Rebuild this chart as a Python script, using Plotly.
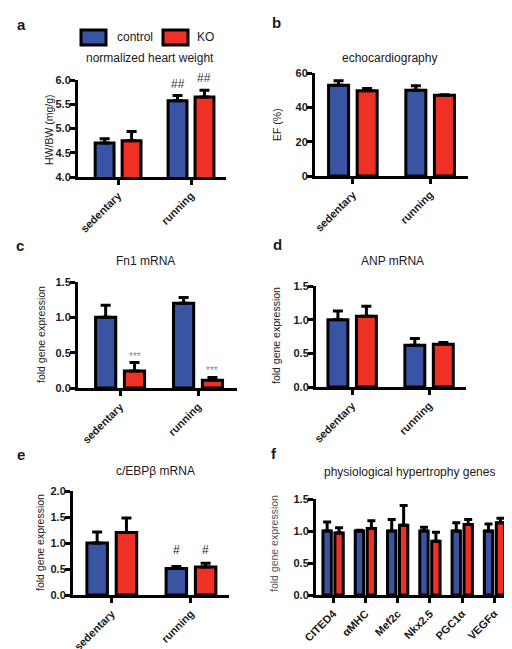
import plotly.graph_objects as go

# ---------------- data ----------------
groups = ["sedentary", "running"]
genes = ["CITED4", "αMHC", "Mef2c", "Nkx2.5", "PGC1α", "VEGFα"]

hw_control = [4.70, 5.57]
hw_control_err = [0.09, 0.11]
hw_ko = [4.75, 5.65]
hw_ko_err = [0.19, 0.14]

ef_control = [52.8, 49.9]
ef_control_err = [2.7, 2.7]
ef_ko = [49.7, 47.0]
ef_ko_err = [1.3, 0.4]

fn1_control = [1.00, 1.20]
fn1_control_err = [0.17, 0.08]
fn1_ko = [0.24, 0.11]
fn1_ko_err = [0.12, 0.04]

anp_control = [1.00, 0.62]
anp_control_err = [0.13, 0.10]
anp_ko = [1.05, 0.635]
anp_ko_err = [0.15, 0.025]

cebpb_control = [1.00, 0.51]
cebpb_control_err = [0.21, 0.04]
cebpb_ko = [1.20, 0.54]
cebpb_ko_err = [0.28, 0.07]

phys_control = [1.00, 1.00, 1.00, 1.00, 1.00, 1.00]
phys_control_err = [0.14, 0.01, 0.18, 0.06, 0.13, 0.11]
phys_ko = [0.97, 1.04, 1.09, 0.84, 1.10, 1.13]
phys_ko_err = [0.08, 0.12, 0.31, 0.14, 0.08, 0.07]

# ---------------- styling ----------------
W, H = 512, 649
BLUE = "#3a54a4"
RED = "#ee3124"
FONT = "Liberation Sans, Arial, sans-serif"
TXT = "#1a1a1a"
BARGAP = 0.26
BARGROUPGAP = 0.30
OFF = (1 - BARGAP) / 4  # offset of each bar centre from category centre


def xd(l, r):
    return [l / W, r / W]


def yd(top, bottom):
    return [1 - bottom / H, 1 - top / H]


panels = [
    dict(cats=groups, c=hw_control, ce=hw_control_err, k=hw_ko, ke=hw_ko_err,
         px=(70, 218), py=(72, 169), xr=[-0.55, 1.48], yr=[4, 6], dt=0.5, fmt=".1f",
         title="normalized heart weight", tpos=(142, 50),
         ytitle="HW/BW (mg/g)", ytpos=(41, 122), letter="a", lpos=(13, 16), cap=5),
    dict(cats=groups, c=ef_control, ce=ef_control_err, k=ef_ko, ke=ef_ko_err,
         px=(307, 460), py=(65, 168), xr=[-0.49, 1.49], yr=[0, 60], dt=20, fmt="d",
         title="echocardiography", tpos=(381, 50),
         ytitle="EF (%)", ytpos=(269, 117), letter="b", lpos=(268, 15), cap=5),
    dict(cats=groups, c=fn1_control, ce=fn1_control_err, k=fn1_ko, ke=fn1_ko_err,
         px=(70, 229), py=(274, 380), xr=[-0.54, 1.5], yr=[0, 1.5], dt=0.5, fmt=".1f",
         title="Fn1 mRNA", tpos=(137, 253),
         ytitle="fold gene expression", ytpos=(33, 327), letter="c", lpos=(12, 238), cap=5),
    dict(cats=groups, c=anp_control, ce=anp_control_err, k=anp_ko, ke=anp_ko_err,
         px=(308, 458), py=(278, 379), xr=[-0.47, 1.48], yr=[0, 1.5], dt=0.5, fmt=".1f",
         title="ANP mRNA", tpos=(384, 253),
         ytitle="fold gene expression", ytpos=(268, 328), letter="d", lpos=(269, 237), cap=5),
    dict(cats=groups, c=cebpb_control, ce=cebpb_control_err, k=cebpb_ko, ke=cebpb_ko_err,
         px=(65, 221), py=(483, 587), xr=[-0.49, 1.48], yr=[0, 2.0], dt=0.5, fmt=".1f",
         title="c/EBPβ mRNA", tpos=(147, 463),
         ytitle="fold gene expression", ytpos=(32, 535), letter="e", lpos=(13, 446), cap=5),
    dict(cats=genes, c=phys_control, ce=phys_control_err, k=phys_ko, ke=phys_ko_err,
         px=(308, 502), py=(491, 587), xr=[-0.53, 5.48], yr=[0, 1.5], dt=0.5, fmt=".1f",
         title="physiological hypertrophy genes", tpos=(401, 464),
         ytitle="fold gene expression", ytpos=(266, 536), letter="f", lpos=(266, 445), cap=4),
]

fig = go.Figure()
annotations = []
layout_axes = {}

for i, p in enumerate(panels, start=1):
    xa = "x" if i == 1 else f"x{i}"
    ya = "y" if i == 1 else f"y{i}"
    for vals, errs, col, name in [(p["c"], p["ce"], BLUE, "control"), (p["k"], p["ke"], RED, "KO")]:
        fig.add_trace(go.Bar(
            x=p["cats"], y=vals, name=name, showlegend=False,
            marker=dict(color=col, line=dict(color="black", width=3)),
            error_y=dict(type="data", array=errs, arrayminus=[0] * len(errs), symmetric=False,
                         color="black", thickness=3, width=p["cap"]),
            xaxis=xa, yaxis=ya, offsetgroup=name,
        ))
    xk = "xaxis" if i == 1 else f"xaxis{i}"
    yk = "yaxis" if i == 1 else f"yaxis{i}"
    layout_axes[xk] = dict(
        domain=xd(*p["px"]), anchor=ya, type="category", range=p["xr"],
        automargin=False,
        showline=True, linewidth=3, linecolor="black", showgrid=False, zeroline=False,
        ticks="outside", ticklen=5, tickwidth=3, tickcolor="black", tickangle=-45,
        tickfont=dict(family=FONT, size=11, color=TXT, weight="bold"),
        fixedrange=True,
    )
    layout_axes[yk] = dict(
        domain=yd(*p["py"]), anchor=xa, range=p["yr"], dtick=p["dt"], tick0=p["yr"][0],
        tickformat=p["fmt"], automargin=False,
        showline=True, linewidth=3, linecolor="black", showgrid=False, zeroline=False,
        ticks="outside", ticklen=5, tickwidth=3, tickcolor="black",
        ticklabelstandoff=-3,
        tickfont=dict(family=FONT, size=11, color=TXT, weight="bold"),
        fixedrange=True,
    )
    # panel title
    annotations.append(dict(text=p["title"], xref="paper", yref="paper",
                            x=p["tpos"][0] / W, y=1 - p["tpos"][1] / H,
                            xanchor="center", yanchor="middle", showarrow=False,
                            font=dict(family=FONT, size=12, color=TXT)))
    # y-axis title
    annotations.append(dict(text=p["ytitle"], xref="paper", yref="paper",
                            x=p["ytpos"][0] / W, y=1 - p["ytpos"][1] / H, textangle=-90,
                            xanchor="center", yanchor="middle", showarrow=False,
                            font=dict(family=FONT, size=10.5,
                                      color="#555" if p["letter"] == "f" else TXT)))
    # panel letter
    annotations.append(dict(text=p["letter"], xref="paper", yref="paper",
                            x=p["lpos"][0] / W, y=1 - p["lpos"][1] / H,
                            xanchor="center", yanchor="middle", showarrow=False,
                            font=dict(family=FONT, size=15, color=TXT, weight="bold")))

# significance markers
def sig(panel_idx, cat_idx, which, text, size, color, yshift):
    p = panels[panel_idx]
    vals, errs = (p["c"], p["ce"]) if which == "c" else (p["k"], p["ke"])
    i = panel_idx + 1
    annotations.append(dict(
        text=text, xref="x" if i == 1 else f"x{i}", yref="y" if i == 1 else f"y{i}",
        x=cat_idx + (-OFF if which == "c" else OFF), y=vals[cat_idx] + errs[cat_idx],
        xanchor="center", yanchor="bottom", yshift=yshift, showarrow=False,
        font=dict(family=FONT, size=size, color=color)))

sig(0, 1, "c", "##", 12, "#333", 3)
sig(0, 1, "k", "##", 12, "#333", 3)
sig(2, 0, "k", "***", 10, "#888", -1)
sig(2, 1, "k", "***", 10, "#888", -1)
sig(4, 1, "c", "#", 12, "#222", 7)
sig(4, 1, "k", "#", 12, "#222", 4)

# legend (drawn manually to match the boxed swatches)
shapes = []
for (l, r, col, label, tx) in [(73, 98, BLUE, "control", 107), (155, 180, RED, "KO", 187)]:
    shapes.append(dict(type="rect", xref="paper", yref="paper",
                       x0=l / W, x1=r / W, y0=1 - 37 / H, y1=1 - 22 / H,
                       fillcolor=col, line=dict(color="black", width=3)))
    annotations.append(dict(text=label, xref="paper", yref="paper",
                            x=tx / W, y=1 - 29.5 / H, xanchor="left", yanchor="middle",
                            showarrow=False, font=dict(family=FONT, size=12, color=TXT)))

fig.update_layout(
    width=W, height=H, margin=dict(l=0, r=0, t=0, b=0),
    paper_bgcolor="white", plot_bgcolor="white",
    barmode="group", bargap=BARGAP, bargroupgap=BARGROUPGAP,
    showlegend=False, annotations=annotations, shapes=shapes,
    font=dict(family=FONT, color=TXT),
    **layout_axes,
)

fig.write_html("out.html")
